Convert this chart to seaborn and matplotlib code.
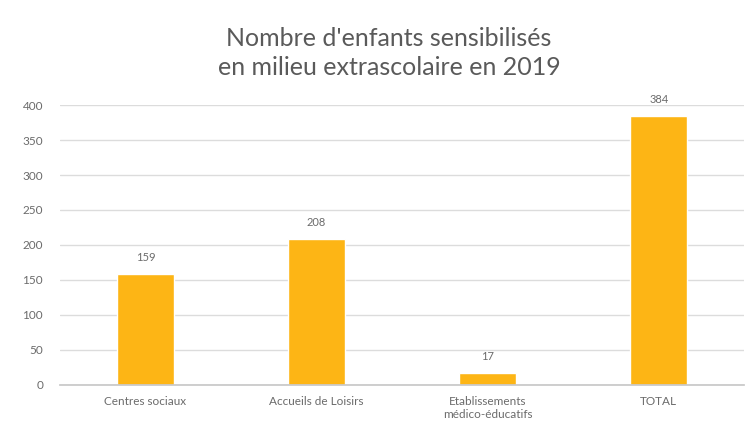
import matplotlib
matplotlib.use("Agg")
import matplotlib.pyplot as plt
import seaborn as sns
import pandas as pd

# donnees
categories = ["Centres sociaux", "Accueils de Loisirs",
              "Etablissements\nmédico-éducatifs", "TOTAL"]
valeurs = [159, 208, 17, 384]
yticks = [0, 50, 100, 150, 200, 250, 300, 350, 400]

df = pd.DataFrame({"categorie": categories, "enfants": valeurs})

sns.set_theme(style="white")
plt.rcParams["font.family"] = ["Lato", "DejaVu Sans"]

gris = "#6b6b6b"
orange = "#fdb515"

fig = plt.figure(figsize=(7.48, 4.47), dpi=100)
ax = fig.add_axes([0.08, 0.139, 0.915, 0.626])

sns.barplot(data=df, x="categorie", y="enfants", color=orange,
            width=0.33, saturation=1, ax=ax)

# etiquettes de valeur au-dessus des barres
for p, v in zip(ax.patches, valeurs):
    ax.annotate(str(v), (p.get_x() + p.get_width() / 2, p.get_height()),
                xytext=(0, 8), textcoords="offset points",
                ha="center", va="bottom", fontsize=8, color=gris)

ax.set_ylim(0, 400)
ax.set_yticks(yticks)
ax.set_xlim(-0.5, 3.5)
ax.yaxis.grid(True, color="#dcdcdc", linewidth=1)
ax.set_axisbelow(True)
for s in ["top", "right", "left"]:
    ax.spines[s].set_visible(False)
ax.spines["bottom"].set_color("#c8c8c8")
ax.tick_params(axis="y", length=0, pad=12, labelsize=8.5, labelcolor=gris)
ax.tick_params(axis="x", length=0, pad=8, labelsize=8.5, labelcolor=gris)
ax.set_xlabel("")
ax.set_ylabel("")

fig.suptitle("Nombre d'enfants sensibilisés\nen milieu extrascolaire en 2019",
             x=0.52, y=0.94, va="top", fontsize=18, color="#5a5a5a",
             linespacing=1.3)

fig.savefig("out.png", dpi=100)
